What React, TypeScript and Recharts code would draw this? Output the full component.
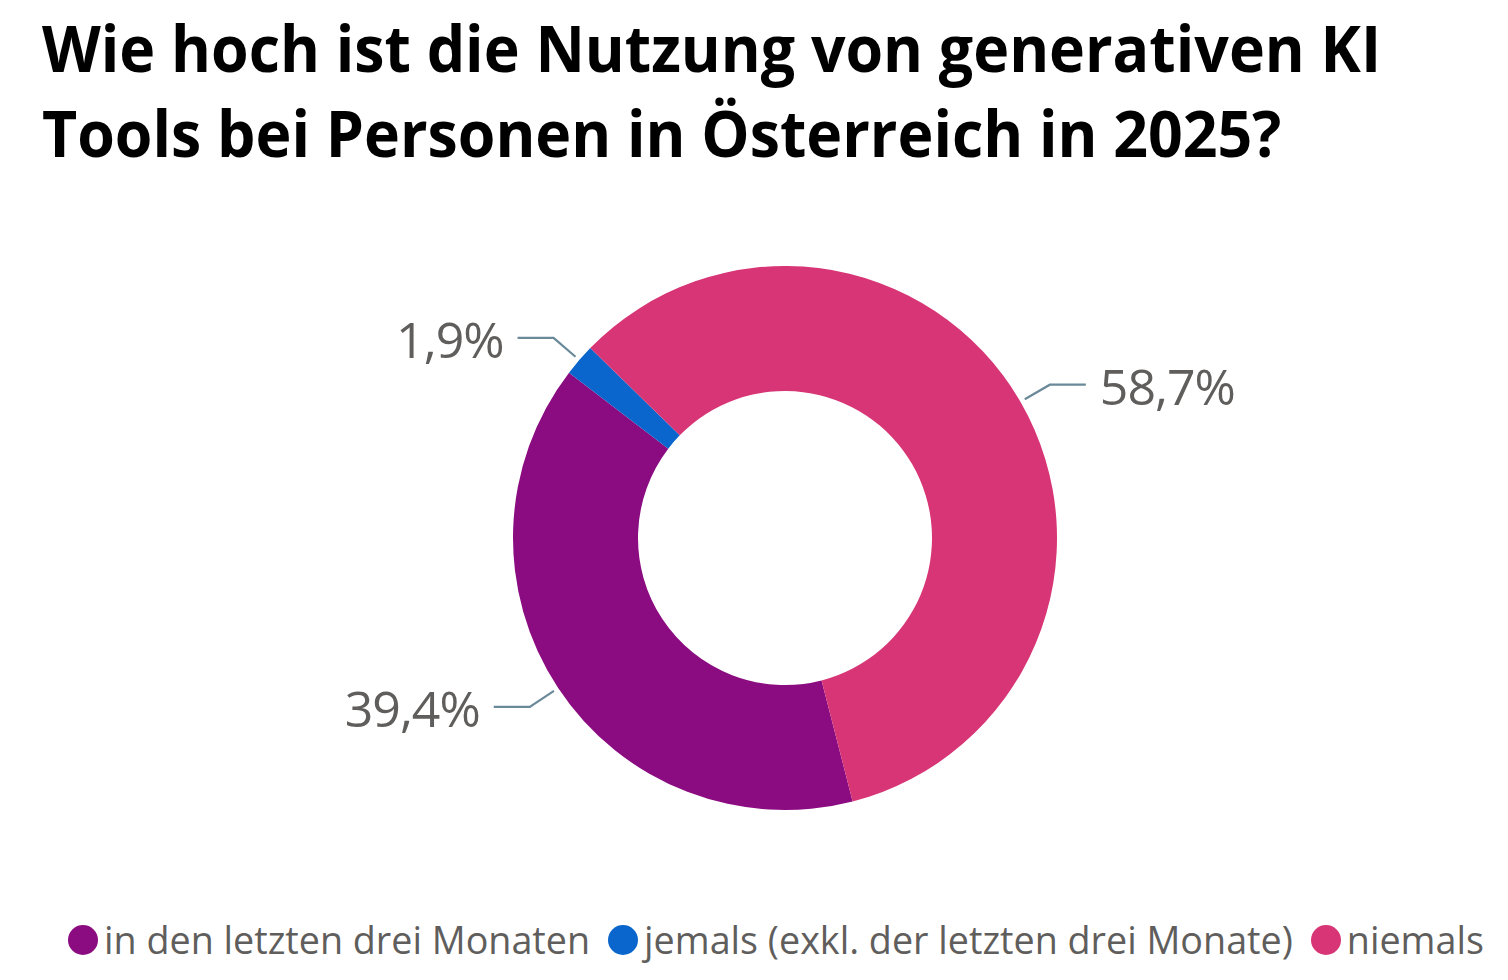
import React from 'react';
import { PieChart, Pie, Cell, Legend } from 'recharts';

const categories = [
  'in den letzten drei Monaten',
  'jemals (exkl. der letzten drei Monate)',
  'niemals',
];
const values = [39.4, 1.9, 58.7];
const valueLabels = ['39,4%', '1,9%', '58,7%'];
const colors = ['#8B0C81', '#0A66CC', '#D73575'];
const titleLines = [
  'Wie hoch ist die Nutzung von generativen KI',
  'Tools bei Personen in Österreich in 2025?',
];

const data = categories.map((name, i) => ({ name, value: values[i] }));

const RAD = Math.PI / 180;
const FONT = '"Open Sans", "Noto Sans", sans-serif';

function renderLabel(props: any) {
  const { cx, cy, midAngle, outerRadius, index } = props;
  const c = Math.cos(-midAngle * RAD);
  const s = Math.sin(-midAngle * RAD);
  const sx = cx + (outerRadius + 5) * c;
  const sy = cy + (outerRadius + 5) * s;
  const mx = cx + (outerRadius + 34) * c;
  const my = cy + (outerRadius + 34) * s;
  const right = c >= 0;
  const ex = mx + (right ? 36 : -36);
  const tx = ex + (right ? 14 : -14);
  return (
    <g>
      <path d={`M${sx},${sy}L${mx},${my}L${ex},${my}`} stroke="#6A8A99" strokeWidth={2.2} fill="none" />
      <text
        x={tx}
        y={my + 20}
        textAnchor={right ? 'start' : 'end'}
        fill="#605E5C"
        fontSize={50}
        letterSpacing={-1}
        fontFamily={FONT}
      >
        {valueLabels[index]}
      </text>
    </g>
  );
}

function LegendContent() {
  return (
    <div style={{ display: 'flex', alignItems: 'center', gap: 18, fontFamily: FONT, fontSize: 37.7, color: '#605E5C', whiteSpace: 'nowrap' }}>
      {categories.map((name, i) => (
        <div key={name} style={{ display: 'flex', alignItems: 'center', gap: 6 }}>
          <span style={{ width: 30, height: 30, borderRadius: '50%', background: colors[i], display: 'inline-block' }} />
          <span>{name}</span>
        </div>
      ))}
    </div>
  );
}

export default function App() {
  return (
    <div style={{ position: 'absolute', left: 0, top: 0, width: 1508, height: 980, background: '#fff' }}>
      <div
        style={{
          position: 'absolute',
          left: 42,
          top: 5,
          fontFamily: FONT,
          fontWeight: 700,
          fontSize: 64,
          lineHeight: '85px',
          color: '#000',
          whiteSpace: 'nowrap',
          transform: 'scaleX(0.95)',
          transformOrigin: 'left top',
        }}
      >
        {titleLines.map((t) => (
          <div key={t}>{t}</div>
        ))}
      </div>
      <PieChart width={1508} height={980} margin={{ top: 0, right: 0, bottom: 0, left: 0 }}>
        <Pie
          data={data}
          dataKey="value"
          nameKey="name"
          cx={785}
          cy={538}
          innerRadius={147}
          outerRadius={272}
          startAngle={-75.6}
          endAngle={-435.6}
          stroke="none"
          isAnimationActive={false}
          label={renderLabel}
          labelLine={false}
        >
          {data.map((d, i) => (
            <Cell key={d.name} fill={colors[i]} />
          ))}
        </Pie>
        <Legend
          content={<LegendContent />}
          wrapperStyle={{ position: 'absolute', left: 68, top: 914, width: 'auto', height: 52 }}
        />
      </PieChart>
    </div>
  );
}
